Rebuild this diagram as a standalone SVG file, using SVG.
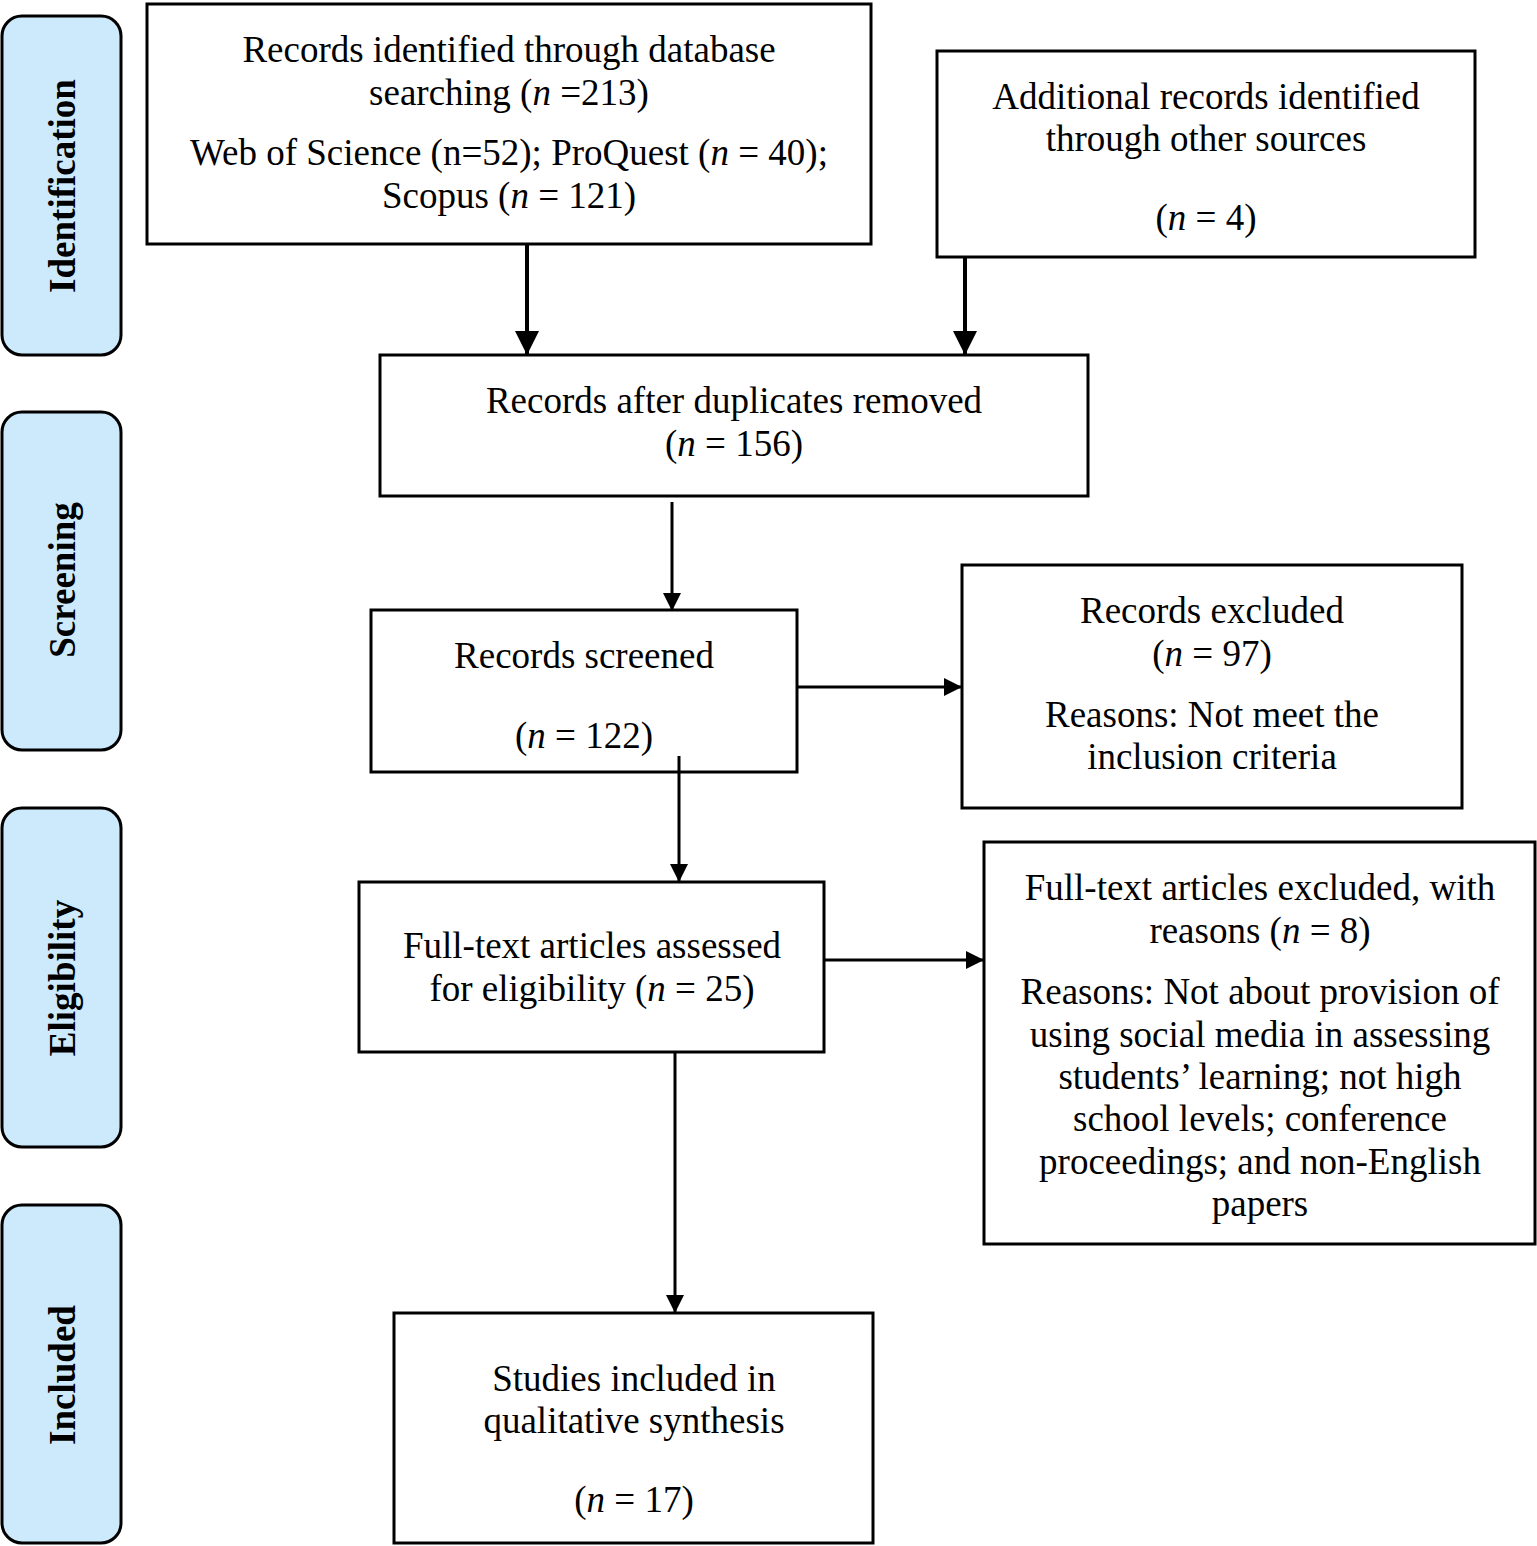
<svg xmlns="http://www.w3.org/2000/svg" width="1537" height="1546" viewBox="0 0 1537 1546">
<style>
.box{fill:#fff;stroke:#000;stroke-width:3}
.side{fill:#cdeafc;stroke:#000;stroke-width:3}
.t{font-family:"Liberation Serif","Times New Roman",serif;font-size:37px;text-anchor:middle;fill:#000}
.s{font-family:"Liberation Serif","Times New Roman",serif;font-size:37px;font-weight:bold;text-anchor:middle;fill:#000}
.c{stroke:#000;fill:none}
</style>
<defs>
<marker id="ah2" viewBox="0 0 10 10" refX="10" refY="5" markerWidth="6" markerHeight="6" orient="auto">
<path d="M0,0 L10,5 L0,10 z" fill="#000"/>
</marker>
</defs>
<rect width="1537" height="1546" fill="#fff"/>
<g id="side-identification"><rect class="side" x="2" y="16" width="119" height="339" rx="20"/><text class="s" transform="translate(75,186) rotate(-90)">Identification</text></g>
<g id="side-screening"><rect class="side" x="2" y="412" width="119" height="338" rx="20"/><text class="s" transform="translate(75,580) rotate(-90)">Screening</text></g>
<g id="side-eligibility"><rect class="side" x="2" y="808" width="119" height="339" rx="20"/><text class="s" transform="translate(75,978) rotate(-90)">Eligibility</text></g>
<g id="side-included"><rect class="side" x="2" y="1205" width="119" height="338" rx="20"/><text class="s" transform="translate(75,1375) rotate(-90)">Included</text></g>

<g id="n1"><rect class="box" x="147" y="4" width="724" height="240"/>
<text class="t" x="509" y="62">Records identified through database</text>
<text class="t" x="509" y="105">searching (<tspan font-style="italic">n</tspan> =213)</text>
<text class="t" x="509" y="165">Web of Science (n=52); ProQuest (<tspan font-style="italic">n</tspan> = 40);</text>
<text class="t" x="509" y="208">Scopus (<tspan font-style="italic">n</tspan> = 121)</text></g>
<g id="n2"><rect class="box" x="937" y="51" width="538" height="206"/>
<text class="t" x="1206" y="109">Additional records identified</text>
<text class="t" x="1206" y="151">through other sources</text>
<text class="t" x="1206" y="230">(<tspan font-style="italic">n</tspan> = 4)</text></g>
<g id="n3"><rect class="box" x="380" y="355" width="708" height="141"/>
<text class="t" x="734" y="413">Records after duplicates removed</text>
<text class="t" x="734" y="456">(<tspan font-style="italic">n</tspan> = 156)</text></g>
<g id="n4"><rect class="box" x="371" y="610" width="426" height="162"/>
<text class="t" x="584" y="668">Records screened</text>
<text class="t" x="584" y="748">(<tspan font-style="italic">n</tspan> = 122)</text></g>
<g id="n5"><rect class="box" x="962" y="565" width="500" height="243"/>
<text class="t" x="1212" y="623">Records excluded</text>
<text class="t" x="1212" y="666">(<tspan font-style="italic">n</tspan> = 97)</text>
<text class="t" x="1212" y="727">Reasons: Not meet the</text>
<text class="t" x="1212" y="769">inclusion criteria</text></g>
<g id="n6"><rect class="box" x="359" y="882" width="465" height="170"/>
<text class="t" x="592" y="958">Full-text articles assessed</text>
<text class="t" x="592" y="1001">for eligibility (<tspan font-style="italic">n</tspan> = 25)</text></g>
<g id="n7"><rect class="box" x="984" y="842" width="551" height="402"/>
<text class="t" x="1260" y="900">Full-text articles excluded, with</text>
<text class="t" x="1260" y="943">reasons (<tspan font-style="italic">n</tspan> = 8)</text>
<text class="t" x="1260" y="1004">Reasons: Not about provision of</text>
<text class="t" x="1260" y="1047">using social media in assessing</text>
<text class="t" x="1260" y="1089">students’ learning; not high</text>
<text class="t" x="1260" y="1131">school levels; conference</text>
<text class="t" x="1260" y="1174">proceedings; and non-English</text>
<text class="t" x="1260" y="1216">papers</text></g>
<g id="n8"><rect class="box" x="394" y="1313" width="479" height="230"/>
<text class="t" x="634" y="1391">Studies included in</text>
<text class="t" x="634" y="1433">qualitative synthesis</text>
<text class="t" x="634" y="1512">(<tspan font-style="italic">n</tspan> = 17)</text></g>

<g id="connectors">
<line class="c" x1="527" y1="245" x2="527" y2="355" stroke-width="4" marker-end="url(#ah2)"/>
<line class="c" x1="965" y1="258" x2="965" y2="355" stroke-width="4" marker-end="url(#ah2)"/>
<line class="c" x1="672" y1="502" x2="672" y2="611" stroke-width="3" marker-end="url(#ah2)"/>
<line class="c" x1="798" y1="687" x2="962" y2="687" stroke-width="3" marker-end="url(#ah2)"/>
<line class="c" x1="679" y1="756" x2="679" y2="882" stroke-width="3" marker-end="url(#ah2)"/>
<line class="c" x1="825" y1="960" x2="984" y2="960" stroke-width="3" marker-end="url(#ah2)"/>
<line class="c" x1="675" y1="1053" x2="675" y2="1313" stroke-width="3" marker-end="url(#ah2)"/>
</g>
</svg>
